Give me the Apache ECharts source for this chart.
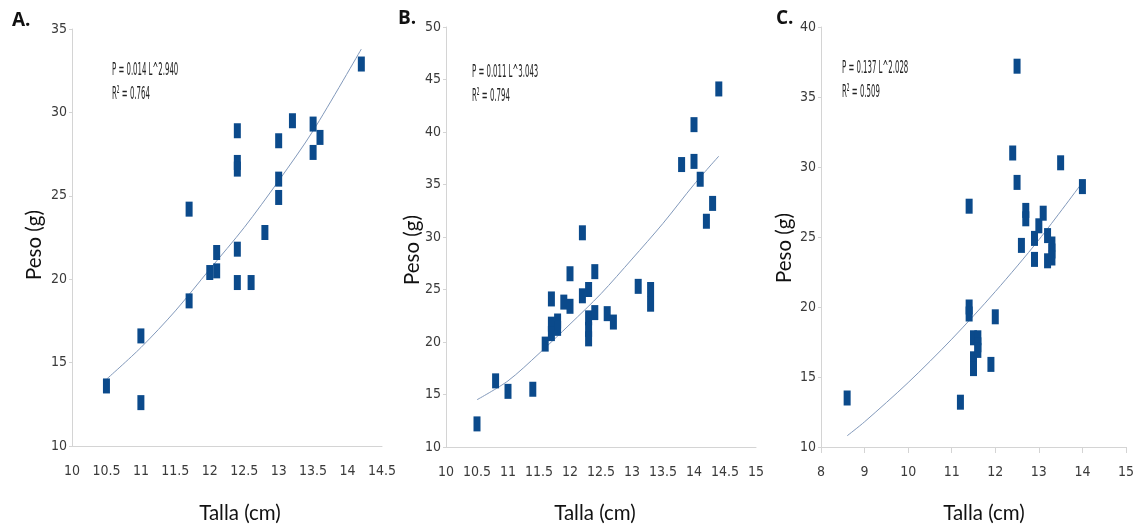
<!DOCTYPE html>
<html><head><meta charset="utf-8">
<script src="https://cdn.jsdelivr.net/npm/echarts@6/dist/echarts.min.js"></script>
<style>html,body{margin:0;padding:0;background:#fff}#c{width:1137px;height:526px}</style>
</head><body><div id="c"></div>
<script>
// Panel A data (Talla cm, Peso g)
var ptsA = [[10.5,13.6],[11.0,16.6],[11.0,12.6],[11.7,18.7],[11.7,24.2],[12.0,20.4],[12.1,20.5],[12.1,21.6],
  [12.4,21.8],[12.4,19.8],[12.6,19.8],[12.4,28.9],[12.4,27.0],[12.4,26.6],[12.8,22.8],[13.0,28.3],[13.0,26.0],
  [13.0,24.9],[13.2,29.5],[13.5,29.3],[13.5,27.6],[13.6,28.5],[14.2,32.9]];
var trendA = [[10.5,14.0],[11,15.9],[11.5,18.1],[12,20.6],[12.5,23.1],[13,25.9],[13.5,28.9],[14.2,33.8]];
// Panel B data
var ptsB = [[10.5,12.2],[10.8,16.3],[11.0,15.3],[11.4,15.5],[11.6,19.8],[11.7,24.1],[11.7,21.7],[11.7,20.8],
  [11.8,22.0],[11.8,21.3],[11.9,23.8],[12.0,23.4],[12.0,26.5],[12.2,24.4],[12.2,30.4],[12.3,25.0],[12.3,22.3],
  [12.3,21.2],[12.3,20.3],[12.4,22.8],[12.4,26.7],[12.6,22.7],[12.7,21.9],[13.1,25.3],[13.3,25.0],[13.3,23.6],
  [13.8,36.9],[14.0,37.2],[14.0,40.7],[14.1,35.5],[14.2,31.5],[14.3,33.2],[14.4,44.1]];
var trendB = [[10.5,14.5],[11,16.3],[11.5,18.9],[12,21.7],[12.5,24.6],[13,27.9],[13.5,31.3],[14,35.0],[14.4,37.7]];
// Panel C data
var ptsC = [[8.6,13.5],[11.2,13.2],[11.4,27.2],[11.4,20.0],[11.4,19.5],[11.5,16.3],[11.5,15.6],[11.5,17.8],
  [11.6,17.8],[11.6,17.3],[11.6,16.9],[11.9,15.9],[12.0,19.3],[12.4,31.0],[12.5,37.2],[12.5,28.9],[12.6,24.4],
  [12.7,26.9],[12.7,26.3],[12.9,24.9],[12.9,23.4],[13.0,25.8],[13.1,26.7],[13.2,25.1],[13.2,23.3],[13.3,24.5],
  [13.3,24.0],[13.3,23.5],[13.5,30.3],[14.0,28.6]];
var trendC = [[8.6,10.8],[9,11.8],[10,14.6],[11,17.7],[12,21.1],[13,24.8],[14,28.9]];
// Text
var panelLetters = ['A.','B.','C.'];
var equations = ['P = 0.014 L^2.940','P = 0.011 L^3.043','P = 0.137 L^2.028'];
var r2Texts = ['R\u00b2 = 0.764','R\u00b2 = 0.794','R\u00b2 = 0.509'];
var xName = 'Talla (cm)', yName = 'Peso (g)';
var xRanges = [[10,14.5,0.5],[10,15,0.5],[8,15,1]];
var yRanges = [[10,35,5],[10,50,5],[10,40,5]];

var NARROW = "'Liberation Sans Narrow','DejaVu Sans Condensed',sans-serif";
var LABEL = "Lato, 'Open Sans', sans-serif";
var markColor = '#0b4a8b', lineColor = '#8299bb', axisColor = '#d4d4d4', tickText = '#3a3a3a';

var grids = [
  {left:72, top:29, width:310, height:417},
  {left:446, top:27, width:310, height:420},
  {left:821, top:27, width:310, height:420}
];
var pts = [ptsA, ptsB, ptsC], trends = [trendA, trendB, trendC];
var xAxes = [], yAxes = [], series = [];
for (var i = 0; i < 3; i++) {
  xAxes.push({type:'value', gridIndex:i, min:xRanges[i][0], max:xRanges[i][1], interval:xRanges[i][2],
    axisLine:{show:true, lineStyle:{color:axisColor, width:1}},
    axisTick:{show:i===2, length:6, lineStyle:{color:axisColor}},
    splitLine:{show:false},
    axisLabel:{color:tickText, fontFamily:NARROW, fontSize:14, margin:18}});
  yAxes.push({type:'value', gridIndex:i, min:yRanges[i][0], max:yRanges[i][1], interval:yRanges[i][2],
    axisLine:{show:true, lineStyle:{color:axisColor, width:1}},
    axisTick:{show:true, length:3, lineStyle:{color:axisColor}},
    splitLine:{show:false},
    axisLabel:{color:tickText, fontFamily:NARROW, fontSize:14, margin:5}});
  series.push({type:'line', xAxisIndex:i, yAxisIndex:i, data:trends[i], smooth:0.3, showSymbol:false,
    lineStyle:{color:lineColor, width:1}, silent:true, z:2});
  series.push({type:'scatter', xAxisIndex:i, yAxisIndex:i, data:pts[i], symbol:'rect', symbolSize:[7,15],
    itemStyle:{color:markColor, opacity:1}, z:3});
}

var letterPos = [[12,22],[398,20],[776,20]];
var eqPos = [[112,70,94],[472,72,96],[842,68,92]];
var yNamePos = [[34,245],[412,250],[784,248]];
var xNamePos = [[240,513],[595,513],[984,513]];
var graphic = [];
for (var j = 0; j < 3; j++) {
  graphic.push({type:'text', left:letterPos[j][0], top:letterPos[j][1]-11,
    style:{text:panelLetters[j], font:"bold 19px 'Open Sans', sans-serif", fill:'#111'}});
  graphic.push({type:'text', x:eqPos[j][0], y:eqPos[j][1], scaleX:0.43,
    style:{text:equations[j], font:"18px " + NARROW, fill:'#222', textVerticalAlign:'middle', textAlign:'left'}});
  graphic.push({type:'text', x:eqPos[j][0], y:eqPos[j][2], scaleX:0.43,
    style:{text:r2Texts[j], font:"18px " + NARROW, fill:'#222', textVerticalAlign:'middle', textAlign:'left'}});
  graphic.push({type:'text', x:yNamePos[j][0], y:yNamePos[j][1], rotation:Math.PI/2,
    style:{text:yName, font:"20.5px " + LABEL, fill:'#111', textAlign:'center', textVerticalAlign:'middle'}});
  graphic.push({type:'text', x:xNamePos[j][0], y:xNamePos[j][1],
    style:{text:xName, font:"20.5px " + LABEL, fill:'#111', textAlign:'center', textVerticalAlign:'middle'}});
}

var chart = echarts.init(document.getElementById('c'), null, {renderer:'canvas'});
chart.setOption({
  animation:false,
  backgroundColor:'#ffffff',
  grid:grids, xAxis:xAxes, yAxis:yAxes, series:series, graphic:graphic
});
</script></body></html>
